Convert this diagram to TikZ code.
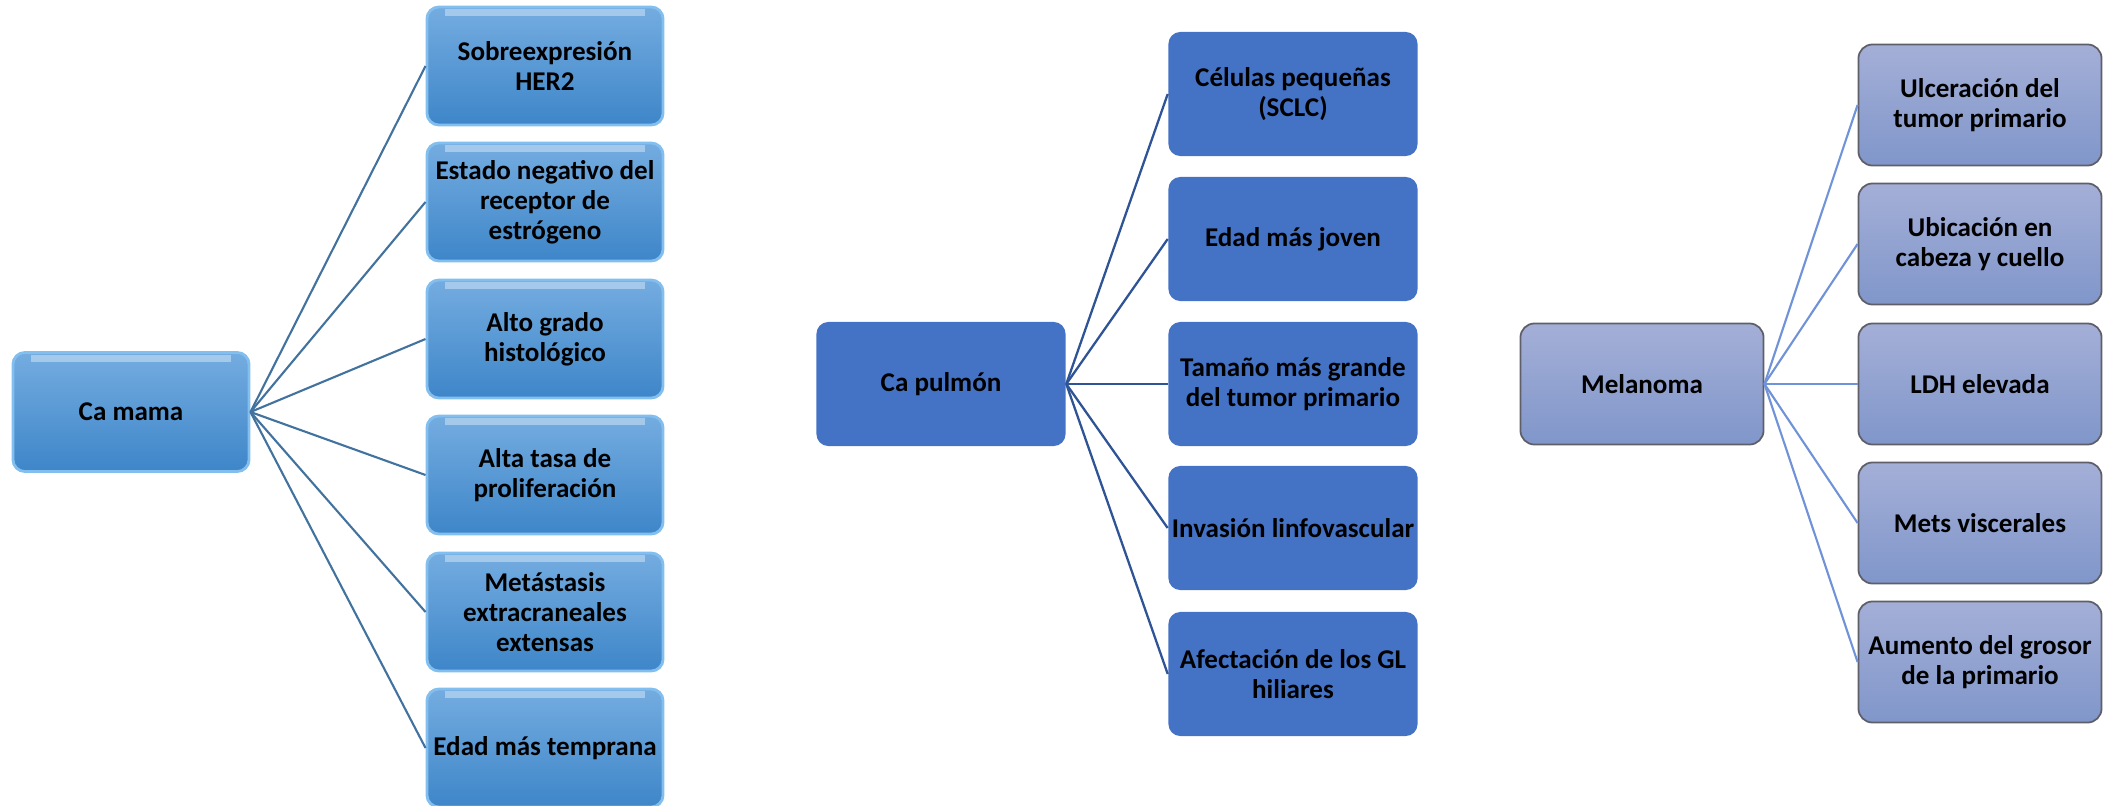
\documentclass[tikz,border=0pt]{standalone}
\usepackage{fontspec}
\setmainfont{Carlito}
\definecolor{mamatop}{RGB}{116,172,224}
\definecolor{mamabot}{RGB}{62,134,201}
\definecolor{mamaedge}{RGB}{130,190,238}
\definecolor{mamaline}{RGB}{66,114,158}
\definecolor{pulmonfill}{RGB}{68,114,196}
\definecolor{pulmonline}{RGB}{47,84,150}
\definecolor{meltop}{RGB}{164,175,215}
\definecolor{melbot}{RGB}{128,150,202}
\definecolor{meledge}{RGB}{95,95,105}
\definecolor{melline}{RGB}{112,146,216}

\begin{document}
\begin{tikzpicture}[x=0.01cm, y=-0.01cm,
  boxtext/.style={align=center, inner sep=1pt, font=\bfseries\fontsize{7.7}{8.5}\selectfont},
  mamabox/.style={boxtext, rounded corners=3.4pt, top color=mamatop, bottom color=mamabot,
    draw=mamaedge, line width=0.8pt, minimum width=2.36cm, minimum height=1.18cm,
    path picture={\draw[white!35!mamatop, line width=2pt]
      ([xshift=5pt, yshift=-1.6pt]path picture bounding box.north west) --
      ([xshift=-5pt, yshift=-1.6pt]path picture bounding box.north east);}},
  pulmonbox/.style={boxtext, rounded corners=3.4pt, fill=pulmonfill,
    minimum width=2.49cm, minimum height=1.24cm},
  melbox/.style={boxtext, rounded corners=4pt, top color=meltop, bottom color=melbot,
    draw=meledge, line width=0.5pt, minimum width=2.43cm, minimum height=1.21cm},
  mamalink/.style={draw=mamaline, line width=0.6pt},
  pulmonlink/.style={draw=pulmonline, line width=0.65pt},
  mellink/.style={draw=melline, line width=0.6pt}]
\useasboundingbox (0,0) rectangle (2111,806);

% Ca mama
\node[mamabox, minimum height=1.19cm] at (131,412) (mama) {Ca mama};
\node[mamabox] at (545,66) (her) {Sobreexpresión\\HER2};
\node[mamabox] at (545,202) (estr) {Estado negativo del\\receptor de\\estrógeno};
\node[mamabox] at (545,339) (grado) {Alto grado\\histológico};
\node[mamabox] at (545,475) (prolif) {Alta tasa de\\proliferación};
\node[mamabox] at (545,612) (extra) {Metástasis\\extracraneales\\extensas};
\node[mamabox] at (545,748) (temprana) {Edad más temprana};
\path[mamalink] (mama.east) edge (her.west) edge (estr.west) edge (grado.west)
  edge (prolif.west) edge (extra.west) edge (temprana.west);

% Ca pulmon
\node[pulmonbox] at (941,384) (pulmon) {Ca pulmón};
\node[pulmonbox] at (1293,94) (sclc) {Células pequeñas\\(SCLC)};
\node[pulmonbox] at (1293,239) (joven) {Edad más joven};
\node[pulmonbox] at (1293,384) (tamano) {Tamaño más grande\\del tumor primario};
\node[pulmonbox] at (1293,528) (invasion) {Invasión linfovascular};
\node[pulmonbox] at (1293,674) (hiliares) {Afectación de los GL\\hiliares};
\path[pulmonlink] (pulmon.east) edge (sclc.west) edge (joven.west) edge (tamano.west)
  edge (invasion.west) edge (hiliares.west);

% Melanoma
\node[melbox, minimum width=2.43cm] at (1642,384) (mel) {Melanoma};
\node[melbox] at (1980,105) (ulcera) {Ulceración del\\tumor primario};
\node[melbox] at (1980,244) (cabeza) {Ubicación en\\cabeza y cuello};
\node[melbox] at (1980,384) (ldh) {LDH elevada};
\node[melbox] at (1980,523) (mets) {Mets viscerales};
\node[melbox] at (1980,662) (grosor) {Aumento del grosor\\de la primario};
\path[mellink] (mel.east) edge (ulcera.west) edge (cabeza.west) edge (ldh.west)
  edge (mets.west) edge (grosor.west);
\end{tikzpicture}
\end{document}
